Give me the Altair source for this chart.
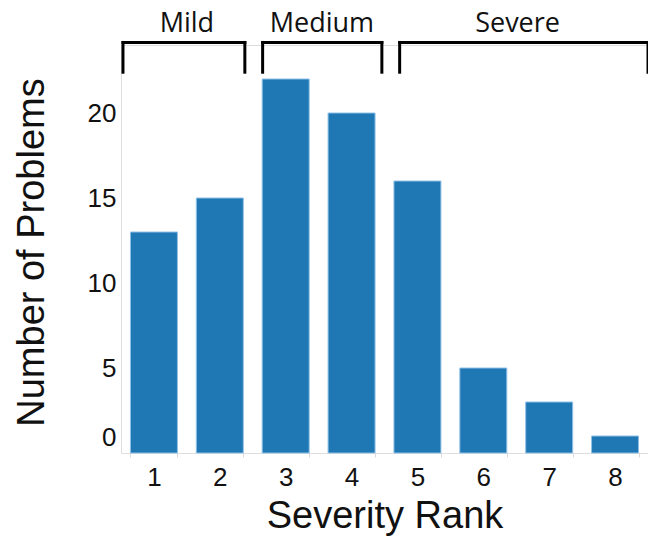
import altair as alt
import pandas as pd

# ---- data ----
ranks = [1, 2, 3, 4, 5, 6, 7, 8]
counts = [13, 15, 22, 20, 16, 5, 3, 1]
y_ticks = [0, 5, 10, 15, 20]

groups = ["Mild", "Medium", "Severe"]
group_start = [0.53, 2.65, 4.73]
group_end = [2.38, 4.46, 8.5]
group_label_pos = [1.5, 3.55, 6.52]

bars_df = pd.DataFrame({"rank": ranks, "count": counts})
br_df = pd.DataFrame({"group": groups, "start": group_start,
                      "end": group_end, "mid": group_label_pos})

W, H = 527, 408
AX_FONT = "Liberation Sans"

y_scale = alt.Scale(domain=[0, 24])

bars = alt.Chart(bars_df).mark_bar(
    color="#1f77b4", stroke="#8fc1e6", strokeWidth=1
).encode(
    x=alt.X("rank:O",
            scale=alt.Scale(paddingInner=0.287, paddingOuter=0.1435),
            axis=alt.Axis(title="Severity Rank", labelAngle=0, tickBand="extent",
                          domain=False, tickColor="#d9d9d9", tickSize=4,
                          labelFont=AX_FONT, labelFontSize=26, labelColor="#111",
                          labelPadding=7,
                          titleFont=AX_FONT, titleFontSize=38, titleFontWeight="normal",
                          titleColor="#111", titleBaseline="middle", titleY=63)),
    y=alt.Y("count:Q", scale=y_scale,
            axis=alt.Axis(title="Number of Problems", values=y_ticks, grid=False,
                          ticks=False, domain=False,
                          labelFont=AX_FONT, labelFontSize=26, labelColor="#111",
                          labelPadding=5,
                          labelOffset={"condition": {"test": "datum.value === 0", "value": -16}, "value": 0},
                          titleFont=AX_FONT, titleFontSize=38, titleFontWeight="normal",
                          titleColor="#111", titleBaseline="middle",
                          titleX=-89, titleY=H / 2 + 3)),
)

xq = alt.Scale(domain=[0.5, 8.5])
TOP = 24.15
BOT = 22.4

top_rules = alt.Chart(br_df).mark_rule(strokeWidth=3, color="black", strokeCap="square").encode(
    x=alt.X("start:Q", scale=xq, axis=None),
    x2="end:Q",
    y=alt.datum(TOP),
)
left_arms = alt.Chart(br_df).mark_rule(strokeWidth=3, color="black", strokeCap="square").encode(
    x=alt.X("start:Q", scale=xq, axis=None),
    y=alt.datum(BOT),
    y2=alt.datum(TOP),
)
right_arms = alt.Chart(br_df).mark_rule(strokeWidth=3, color="black", strokeCap="square").encode(
    x=alt.X("end:Q", scale=xq, axis=None),
    y=alt.datum(BOT),
    y2=alt.datum(TOP),
)
labels = alt.Chart(br_df).mark_text(
    font="Open Sans", fontSize=27, color="#111", baseline="alphabetic"
).encode(
    x=alt.X("mid:Q", scale=xq, axis=None),
    y=alt.datum(24.78),
    text="group:N",
)

chart = alt.layer(bars, top_rules, left_arms, right_arms, labels).resolve_scale(
    x="independent"
).properties(
    width=W, height=H,
    autosize="none",
    padding={"left": 113, "top": 37, "right": 0, "bottom": 83},
).configure_view(stroke="#dedede", strokeWidth=1)

chart.save("out.html", embed_options={"renderer": "svg", "actions": False})
